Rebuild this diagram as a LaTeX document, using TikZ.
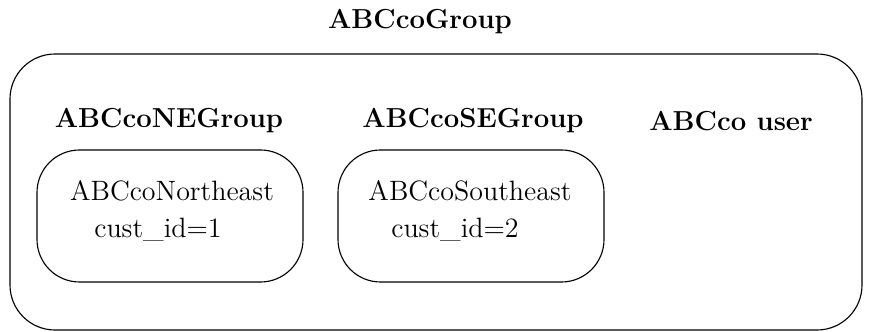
\documentclass[tikz,border=0pt]{standalone}
\begin{document}
\begin{tikzpicture}[x=0.4pt,y=-0.4pt,
  box/.style={draw=black,line width=0.45pt,rounded corners=18pt,inner sep=0pt},
  lbl/.style={font=\fontsize{11}{13}\selectfont\bfseries,inner sep=0pt},
  txt/.style={font=\fontsize{11.2}{13}\selectfont,inner sep=0pt}]
\useasboundingbox (0,0) rectangle (872,332);
\node[box,minimum width=852*0.4pt,minimum height=276*0.4pt] (outer) at (436,192) {};
\node[box,rounded corners=17pt,minimum width=266*0.4pt,minimum height=132*0.4pt] (ne) at (170,216) {};
\node[box,rounded corners=17pt,minimum width=266*0.4pt,minimum height=132*0.4pt] (se) at (471,216) {};
\node[lbl] (title) at (420,22) {ABCcoGroup};
\node[lbl] (negroup) at (169,121) {ABCcoNEGroup};
\node[lbl] (segroup) at (473,121) {ABCcoSEGroup};
\node[lbl] (user) at (731,121) {ABCco user};
\node[txt] (nename) at (172,191) {ABCcoNortheast};
\node[txt] (neid) at (158,230) {cust\_id=1};
\node[txt] (sename) at (470,191) {ABCcoSoutheast};
\node[txt] (seid) at (455,230) {cust\_id=2};
\end{tikzpicture}
\end{document}
